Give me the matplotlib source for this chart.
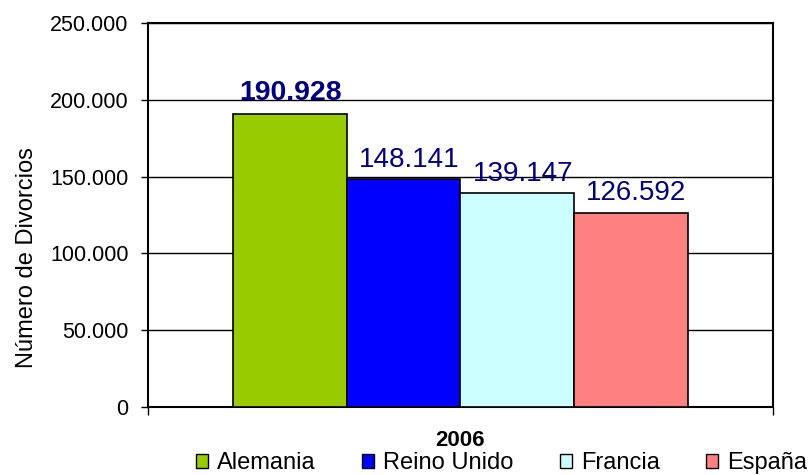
import matplotlib
matplotlib.use("Agg")
import matplotlib.pyplot as plt
from matplotlib.patches import Patch
from matplotlib.ticker import FuncFormatter

plt.rcParams['font.family'] = ['Liberation Sans', 'DejaVu Sans']

countries = ["Alemania", "Reino Unido", "Francia", "España"]
divorces = [190928, 148141, 139147, 126592]
year_label = "2006"
y_label = "Número de Divorcios"
y_ticks = [0, 50000, 100000, 150000, 200000, 250000]

colors = ["#99CC00", "#0000FF", "#CCFFFF", "#FF8080"]
label_color = "#000080"

def fmt(v):
    return f"{int(v):,}".replace(",", ".")

fig = plt.figure(figsize=(8.12, 4.75), dpi=100)
ax = fig.add_axes([148/812, 68/475, 625/812, 384/475])

pos = list(range(len(countries)))
bars = ax.bar(pos, divorces, width=1.0, color=colors, edgecolor="black",
              linewidth=1.2, zorder=3)

ax.set_xlim(1.5 - 2.753, 1.5 + 2.753)
ax.set_ylim(0, 250000)
ax.set_yticks(y_ticks)
ax.yaxis.set_major_formatter(FuncFormatter(lambda v, p: fmt(v)))
ax.yaxis.grid(True, color="black", linewidth=1.0, zorder=0)
ax.tick_params(axis="y", direction="out", length=5, width=1.0, pad=9,
               labelsize=15.5, colors="black")
ax.set_xticks([1.5 - 2.753, 1.5 + 2.753])
ax.set_xticklabels([])
ax.tick_params(axis="x", direction="out", length=6, width=1.0)
for s in ax.spines.values():
    s.set_linewidth(1.5)
    s.set_color("black")

ax.set_ylabel(y_label, fontsize=17)
ax.yaxis.set_label_coords(-0.176, 0.39)

for i, (b, v) in enumerate(zip(bars, divorces)):
    bold = (i == 0)
    ax.annotate(fmt(v), xy=(b.get_x() + b.get_width() / 2, v),
                xytext=(0 if bold else 4, 10 if bold else 9),
                textcoords="offset points", ha="center", va="baseline",
                fontsize=20.5 if bold else 20, color=label_color,
                fontweight="bold" if bold else "normal", zorder=4)

ax.text(0.5, -0.086, year_label, transform=ax.transAxes, ha="center",
        va="center", fontsize=16, fontweight="bold")

handles = [Patch(facecolor=c, edgecolor="black", linewidth=1.0) for c in colors]
fig.legend(handles, countries, loc="center left", ncol=4,
           bbox_to_anchor=(196/812, 1 - 463/475), frameon=False,
           fontsize=17, handlelength=0.52, handleheight=0.52,
           handletextpad=0.38, columnspacing=1.95, borderaxespad=0,
           borderpad=0)

fig.savefig("out.png", dpi=100)
